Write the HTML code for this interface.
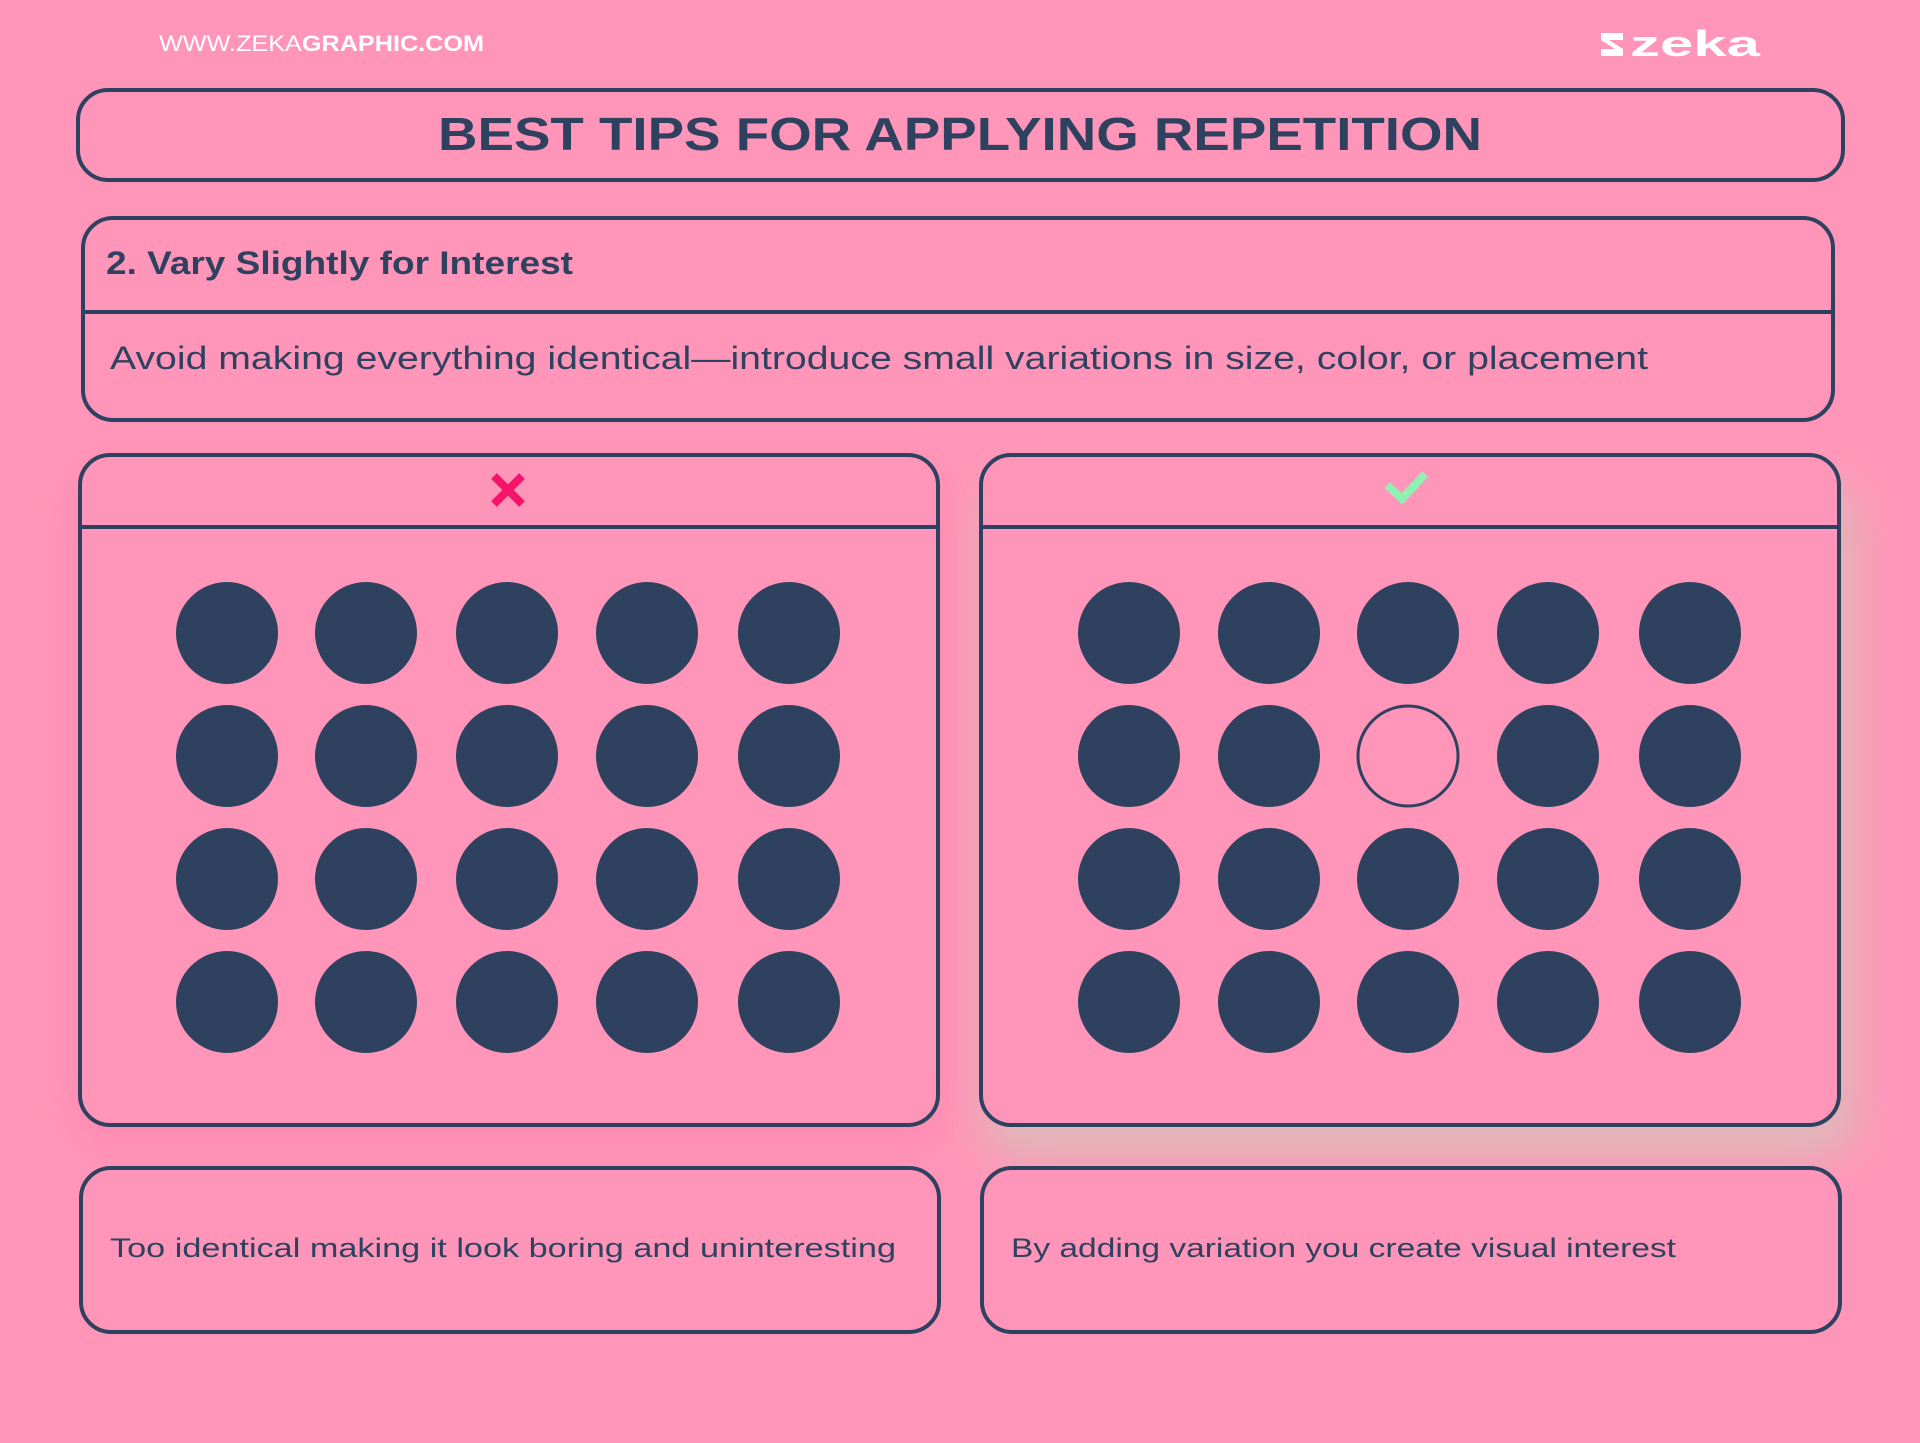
<!DOCTYPE html>
<html><head><meta charset="utf-8"><style>
html,body{margin:0;padding:0;background:#FF96B9;}
svg{display:block}
</style></head><body>
<svg width="1920" height="1443" viewBox="0 0 1920 1443" xmlns="http://www.w3.org/2000/svg">
<defs>
<filter id="shL" x="-20%" y="-20%" width="140%" height="150%"><feGaussianBlur stdDeviation="22"/></filter>
</defs>
<rect width="1920" height="1443" fill="#FF96B9"/>
<text x="159" y="51" font-family="Liberation Sans, sans-serif" font-size="22" fill="#fff" textLength="325" lengthAdjust="spacingAndGlyphs">WWW.ZEKA<tspan font-weight="bold">GRAPHIC.COM</tspan></text>
<!-- logo -->
<g fill="#fff">
<path d="M1601 33 h22 v7 h-14 l14 9 v7 h-22 v-7 h14 l-14 -9z"/>
<text x="1630" y="56" font-family="Liberation Sans, sans-serif" font-weight="bold" font-size="36" textLength="130" lengthAdjust="spacingAndGlyphs">zeka</text>
</g>
<!-- title -->
<rect x="78" y="90" width="1765" height="90" rx="30" fill="none" stroke="#2E4260" stroke-width="4"/>
<text x="960" y="150" text-anchor="middle" font-family="Liberation Sans, sans-serif" font-weight="bold" font-size="46" fill="#2E4260" textLength="1044" lengthAdjust="spacingAndGlyphs">BEST TIPS FOR APPLYING REPETITION</text>
<!-- box 2 -->
<rect x="83" y="218" width="1750" height="202" rx="30" fill="none" stroke="#2E4260" stroke-width="4"/>
<line x1="83" y1="312" x2="1833" y2="312" stroke="#2E4260" stroke-width="4"/>
<text x="106" y="274" font-family="Liberation Sans, sans-serif" font-weight="bold" font-size="32" fill="#2E4260" textLength="467" lengthAdjust="spacingAndGlyphs">2. Vary Slightly for Interest</text>
<text x="110" y="369" font-family="Liberation Sans, sans-serif" font-size="32" fill="#2E4260" textLength="1538" lengthAdjust="spacingAndGlyphs">Avoid making everything identical—introduce small variations in size, color, or placement</text>
<!-- shadows -->
<rect x="80" y="470" width="858" height="670" rx="30" fill="#FF7FAA" opacity="0.7" filter="url(#shL)"/>
<rect x="985" y="485" width="870" height="670" rx="30" fill="#D8C0B8" opacity="0.85" filter="url(#shL)"/>
<!-- panels -->
<rect x="80" y="455" width="858" height="670" rx="30" fill="#FF96B9" stroke="#2E4260" stroke-width="4"/>
<line x1="80" y1="527" x2="938" y2="527" stroke="#2E4260" stroke-width="4"/>
<rect x="981" y="455" width="858" height="670" rx="30" fill="#FF96B9" stroke="#2E4260" stroke-width="4"/>
<line x1="981" y1="527" x2="1839" y2="527" stroke="#2E4260" stroke-width="4"/>
<path d="M494 476 L522 504 M522 476 L494 504" stroke="#F5146A" stroke-width="8"/>
<path d="M1387 485 L1402 499 L1425 474" fill="none" stroke="#8FF2B3" stroke-width="8"/>
<g fill="#2E4260">
<circle cx="227" cy="633" r="51"/><circle cx="366" cy="633" r="51"/><circle cx="507" cy="633" r="51"/><circle cx="647" cy="633" r="51"/><circle cx="789" cy="633" r="51"/>
<circle cx="227" cy="756" r="51"/><circle cx="366" cy="756" r="51"/><circle cx="507" cy="756" r="51"/><circle cx="647" cy="756" r="51"/><circle cx="789" cy="756" r="51"/>
<circle cx="227" cy="879" r="51"/><circle cx="366" cy="879" r="51"/><circle cx="507" cy="879" r="51"/><circle cx="647" cy="879" r="51"/><circle cx="789" cy="879" r="51"/>
<circle cx="227" cy="1002" r="51"/><circle cx="366" cy="1002" r="51"/><circle cx="507" cy="1002" r="51"/><circle cx="647" cy="1002" r="51"/><circle cx="789" cy="1002" r="51"/>
<circle cx="1129" cy="633" r="51"/><circle cx="1269" cy="633" r="51"/><circle cx="1408" cy="633" r="51"/><circle cx="1548" cy="633" r="51"/><circle cx="1690" cy="633" r="51"/>
<circle cx="1129" cy="756" r="51"/><circle cx="1269" cy="756" r="51"/><circle cx="1548" cy="756" r="51"/><circle cx="1690" cy="756" r="51"/>
<circle cx="1129" cy="879" r="51"/><circle cx="1269" cy="879" r="51"/><circle cx="1408" cy="879" r="51"/><circle cx="1548" cy="879" r="51"/><circle cx="1690" cy="879" r="51"/>
<circle cx="1129" cy="1002" r="51"/><circle cx="1269" cy="1002" r="51"/><circle cx="1408" cy="1002" r="51"/><circle cx="1548" cy="1002" r="51"/><circle cx="1690" cy="1002" r="51"/>
</g>
<circle cx="1408" cy="756" r="50" fill="none" stroke="#2E4260" stroke-width="3"/>
<!-- bottom boxes -->
<rect x="81" y="1168" width="858" height="164" rx="30" fill="#FF96B9" stroke="#2E4260" stroke-width="4"/>
<rect x="982" y="1168" width="858" height="164" rx="30" fill="#FF96B9" stroke="#2E4260" stroke-width="4"/>
<text x="110" y="1257" font-family="Liberation Sans, sans-serif" font-size="27" fill="#2E4260" textLength="786" lengthAdjust="spacingAndGlyphs">Too identical making it look boring and uninteresting</text>
<text x="1011" y="1257" font-family="Liberation Sans, sans-serif" font-size="27" fill="#2E4260" textLength="665" lengthAdjust="spacingAndGlyphs">By adding variation you create visual interest</text>
</svg>
</body></html>
